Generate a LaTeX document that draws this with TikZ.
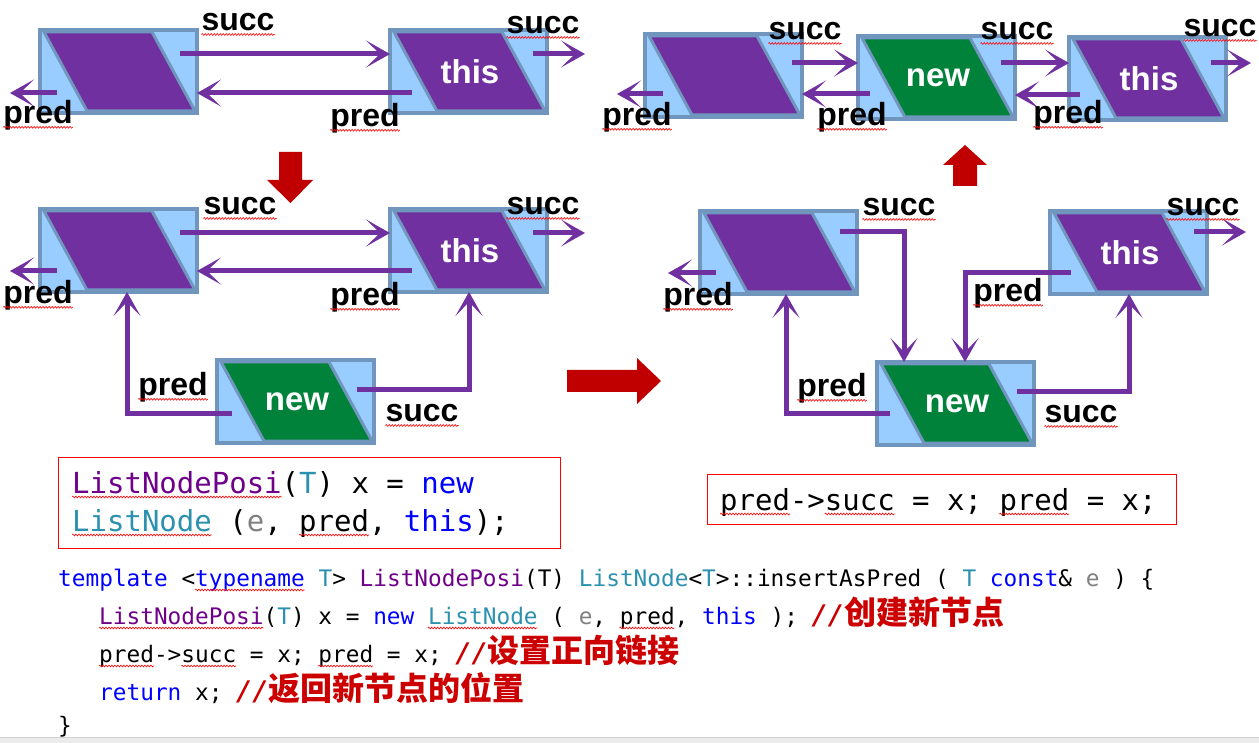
\documentclass[tikz,border=0pt]{standalone}
\usepackage{fontspec}
\usetikzlibrary{arrows.meta,decorations.pathmorphing}
\newfontfamily\labf{Liberation Sans}
\newfontfamily\codef{DejaVu Sans Mono}
\newfontfamily\cjkf{Noto Sans CJK SC}
\definecolor{boxfill}{HTML}{99CCFF}
\definecolor{boxedge}{HTML}{7096BE}
\definecolor{purp}{HTML}{7030A0}
\definecolor{grn}{HTML}{00823B}
\definecolor{redarr}{HTML}{C00000}
\definecolor{cmred}{HTML}{CC0000}
\definecolor{kw}{HTML}{0000FF}
\definecolor{tl}{HTML}{2B91AF}
\definecolor{macp}{HTML}{6F008A}
\definecolor{eg}{HTML}{808080}
\newcommand{\LBox}[5]{%
  \node[lbox, anchor=north west] (#1) at (#2,#3) {};
  \filldraw[para, fill=#4] ({#2+4},{#3+2}) -- ({#2+112},{#3+2}) -- ({#2+155},{#3+81}) -- ({#2+47},{#3+81}) -- cycle;
  \node[ntext] (#1t) at ({#2+80},{#3+41.5}) {#5};
}
\newcommand{\Lbl}[4]{%
  \node[lbl] (#1) at (#2,#3) {#4};
  \draw[squig] ([yshift=-4pt]#1.base west) -- ([yshift=-4pt]#1.base east);
}
\newcommand{\Sq}[3]{\draw[squig] (#1,#3) -- (#2,#3);}
\newcommand{\cm}[1]{{\color{cmred}{\fontsize{27}{30}\selectfont\bfseries\itshape //}{\cjkf\bfseries\fontsize{32}{34}\selectfont #1}}}
\tikzset{
  lbox/.style={draw=boxedge, fill=boxfill, line width=4pt, minimum width=157pt, minimum height=83pt, inner sep=0pt, outer sep=0pt},
  para/.style={draw=boxedge, line width=3pt, line join=round},
  ntext/.style={text=white, font=\labf\bfseries\fontsize{33}{36}\selectfont, inner sep=0pt},
  arr/.style={draw=purp, line width=5pt, -{Stealth[length=24pt,width=27pt,inset=14pt]}},
  lbl/.style={font=\labf\bfseries\fontsize{32}{36}\selectfont, inner sep=0pt},
  squig/.style={draw=red, line width=0.6pt, decorate, decoration={snake, amplitude=0.9pt, segment length=3pt}},
  redshape/.style={fill=redarr},
  codebox/.style={draw=red, line width=1pt, inner sep=0pt, outer sep=0pt},
  codebig/.style={anchor=base west, inner sep=0pt, font=\codef\fontsize{29}{34}\selectfont},
  codesmall/.style={anchor=base west, inner sep=0pt, font=\codef\fontsize{22.76}{27}\selectfont},
}
\begin{document}
\begin{tikzpicture}[x=1pt,y=-1pt]
\useasboundingbox (0,0) rectangle (1259,743);
\fill[white] (0,0) rectangle (1259,743);
\fill[black!8] (0,737) rectangle (1259,743);
\draw[black!18, line width=0.8pt] (0,737) -- (1259,737);

% ---------- Panel 1 (top-left) ----------
\LBox{A1}{40}{30}{purp}{}
\LBox{B1}{390}{30}{purp}{this}
\coordinate (A1p) at ([xshift=-30pt,yshift=-21.5pt]A1.west);
\coordinate (B1s) at ([xshift=38pt,yshift=17.5pt]B1.east);
\draw[arr] ([xshift=-17pt,yshift=17.5pt]A1.east) -- ([yshift=17.5pt]B1.west);
\draw[arr] ([xshift=22pt,yshift=-21.5pt]B1.west) -- ([yshift=-21.5pt]A1.east);
\draw[arr] ([xshift=17pt,yshift=-21.5pt]A1.west) -- (A1p);
\draw[arr] ([xshift=-14pt,yshift=17.5pt]B1.east) -- (B1s);
\Lbl{l1a}{238}{22}{succ}
\Lbl{l1b}{543}{25}{succ}
\Lbl{l1c}{38}{115}{pred}
\Lbl{l1d}{365}{118}{pred}

% red down arrow
\fill[redshape] (279,152) -- (302,152) -- (302,180) -- (313,180) -- (290.5,203) -- (267,180) -- (279,180) -- cycle;

% ---------- Panel 2 (middle-left) ----------
\LBox{A2}{40}{209}{purp}{}
\LBox{B2}{390}{209}{purp}{this}
\LBox{N2}{217}{360}{grn}{new}
\coordinate (A2p) at ([xshift=-30pt,yshift=-20.5pt]A2.west);
\coordinate (B2s) at ([xshift=38pt,yshift=17.5pt]B2.east);
\draw[arr] ([xshift=-17pt,yshift=17.5pt]A2.east) -- ([yshift=17.5pt]B2.west);
\draw[arr] ([xshift=22pt,yshift=-20.5pt]B2.west) -- ([yshift=-20.5pt]A2.east);
\draw[arr] ([xshift=17pt,yshift=-20.5pt]A2.west) -- (A2p);
\draw[arr] ([xshift=-14pt,yshift=17.5pt]B2.east) -- (B2s);
\draw[arr] ([xshift=15pt,yshift=-11.5pt]N2.west) -| ([xshift=87pt]A2.south west);
\draw[arr] ([xshift=-17pt,yshift=11.5pt]N2.east) -| ([xshift=79pt]B2.south west);
\Lbl{l2a}{240}{206}{succ}
\Lbl{l2b}{543}{206}{succ}
\Lbl{l2c}{38}{295}{pred}
\Lbl{l2d}{365}{297}{pred}
\Lbl{l2e}{173}{387}{pred}
\Lbl{l2f}{422}{413}{succ}

% red right arrow
\fill[redshape] (567,370) -- (637,370) -- (637,358) -- (661,381) -- (637,404) -- (637,392) -- (567,392) -- cycle;

% ---------- Panel 3 (top-right) ----------
\LBox{A3}{645}{34}{purp}{}
\LBox{N3}{858}{36}{grn}{new}
\LBox{B3}{1069}{37}{purp}{this}
\coordinate (A3p) at ([xshift=-28pt,yshift=-18.5pt]A3.west);
\coordinate (B3s) at ([xshift=25pt,yshift=15.5pt]B3.east);
\draw[arr] ([xshift=-10pt,yshift=12.5pt]A3.east) -- ([yshift=14.5pt]N3.west);
\draw[arr] ([xshift=12pt,yshift=-16.5pt]N3.west) -- ([yshift=-18.5pt]A3.east);
\draw[arr] ([xshift=18pt,yshift=-18.5pt]A3.west) -- (A3p);
\draw[arr] ([xshift=-14pt,yshift=14.5pt]N3.east) -- ([yshift=15.5pt]B3.west);
\draw[arr] ([xshift=11pt,yshift=-16.5pt]B3.west) -- ([yshift=-17.5pt]N3.east);
\draw[arr] ([xshift=-15pt,yshift=15.5pt]B3.east) -- (B3s);
\Lbl{l3a}{805}{31}{succ}
\Lbl{l3b}{1017}{31}{succ}
\Lbl{l3c}{1220}{28}{succ}
\Lbl{l3d}{637}{117}{pred}
\Lbl{l3e}{852}{117}{pred}
\Lbl{l3f}{1068}{115}{pred}

% red up arrow
\fill[redshape] (965,145) -- (987,165) -- (977,165) -- (977,186) -- (953,186) -- (953,165) -- (943,165) -- cycle;

% ---------- Panel 4 (middle-right) ----------
\LBox{A4}{700}{211}{purp}{}
\LBox{B4}{1050}{211}{purp}{this}
\LBox{N4}{877}{362}{grn}{new}
\coordinate (A4p) at ([xshift=-32pt,yshift=-20.5pt]A4.west);
\coordinate (B4s) at ([xshift=39pt,yshift=20.5pt]B4.east);
\draw[arr] ([xshift=-17pt,yshift=20.5pt]A4.east) -| ([xshift=27pt]N4.north west);
\draw[arr] ([xshift=21pt,yshift=-20.5pt]B4.west) -| ([xshift=88pt]N4.north west);
\draw[arr] ([xshift=13pt,yshift=-9.5pt]N4.west) -| ([xshift=86pt]A4.south west);
\draw[arr] ([xshift=-17pt,yshift=11.5pt]N4.east) -| ([xshift=79pt]B4.south west);
\draw[arr] ([xshift=16pt,yshift=-20.5pt]A4.west) -- (A4p);
\draw[arr] ([xshift=-13pt,yshift=20.5pt]B4.east) -- (B4s);
\Lbl{l4a}{899}{207}{succ}
\Lbl{l4b}{1203}{207}{succ}
\Lbl{l4c}{698}{297}{pred}
\Lbl{l4d}{1008}{293}{pred}
\Lbl{l4e}{832}{388}{pred}
\Lbl{l4f}{1081}{414}{succ}

% ---------- Code boxes ----------
\node[codebox, anchor=north west, minimum width=502pt, minimum height=91pt] (cb1) at (58,457) {};
\node[codebig] (c1a) at (72,493) {\textcolor{macp}{ListNodePosi}(\textcolor{tl}{T}) x = \textcolor{kw}{new}};
\node[codebig] (c1b) at (72,531) {\textcolor{tl}{ListNode} (\textcolor{eg}{e}, pred, \textcolor{kw}{this});};
\Sq{72}{281.5}{497}
\Sq{72}{211.7}{535}
\Sq{299}{368.8}{535}

\node[codebox, anchor=north west, minimum width=469pt, minimum height=50pt] (cb2) at (707,474) {};
\node[codebig] (c2a) at (720,510) {pred->succ = x; pred = x;};
\Sq{720}{789.8}{514}
\Sq{824.8}{894.6}{514}
\Sq{999.4}{1069.2}{514}

% ---------- Code listing ----------
\node[codesmall] (k1) at (58,586) {\textcolor{kw}{template} <\textcolor{kw}{typename} \textcolor{tl}{T}> \textcolor{macp}{ListNodePosi}(T) \textcolor{tl}{ListNode}<\textcolor{tl}{T}>::insertAsPred ( \textcolor{tl}{T} \textcolor{kw}{const}\& \textcolor{eg}{e} ) \{};
\node[codesmall] (k2) at (99,624) {\textcolor{macp}{ListNodePosi}(\textcolor{tl}{T}) x = \textcolor{kw}{new} \textcolor{tl}{ListNode} ( \textcolor{eg}{e}, pred, \textcolor{kw}{this} ); \cm{创建新节点}};
\node[codesmall] (k3) at (99,662) {pred->succ = x; pred = x; \cm{设置正向链接}};
\node[codesmall] (k4) at (99,700) {\textcolor{kw}{return} x; \cm{返回新节点的位置}};
\node[codesmall] (k5) at (58,733) {\}};
\Sq{195}{304.6}{590}
\Sq{99}{263.4}{628}
\Sq{427.8}{537.4}{628}
\Sq{619.6}{674.4}{628}
\Sq{99}{153.8}{666}
\Sq{181.2}{236}{666}
\Sq{318.2}{373}{666}
\end{tikzpicture}
\end{document}
